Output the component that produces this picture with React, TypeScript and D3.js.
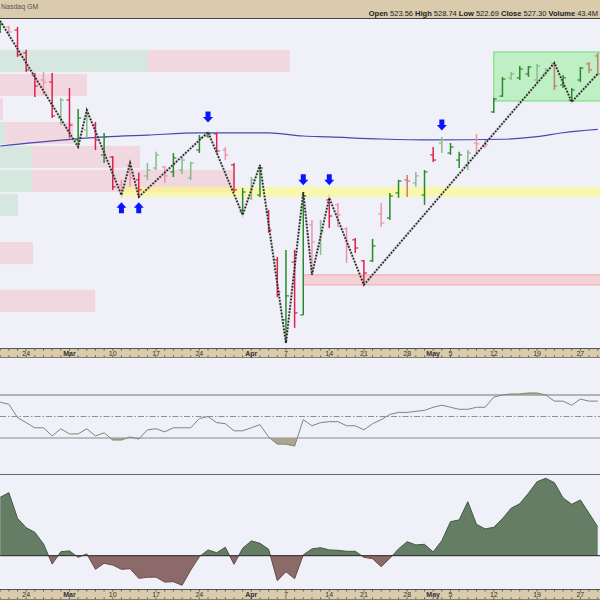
import React from 'react';
import * as d3 from 'd3';

// ---------- data ----------
const holidays = ['2025-04-18', '2025-05-26'];
const fmt = d3.timeFormat('%Y-%m-%d');
const dates: string[] = d3
  .timeDays(new Date(2025, 1, 19), new Date(2025, 4, 30))
  .filter((d) => d.getDay() !== 0 && d.getDay() !== 6)
  .map((d) => fmt(d))
  .filter((s) => !holidays.includes(s));

const highs = [540.4, 538.2, 537.8, 528.0, 518.1, 518.5, 518.1, 507.4, 511.7, 502.7,
  502.2, 497.1, 492.4, 482.5, 472.3, 479.5, 475.3, 479.5, 484.3, 478.3,
  483.8, 482.1, 480.0, 491.5, 492.8, 492.4, 486.4, 479.5, 468.8, 473.5,
  478.7, 459.4, 439.3, 442.3, 442.3, 467.1, 455.1, 455.1, 464.6, 462.4,
  452.1, 447.4, 438.0, 447.0, 462.4, 466.7, 472.3, 474.4, 475.7, 476.5,
  486.4, 490.7, 488.1, 484.3, 485.1, 492.0, 489.4, 507.4, 516.4, 518.5,
  521.1, 521.1, 522.0, 520.2, 522.4, 517.2, 511.7, 520.7, 522.8, 526.7];
const lows = [535.2, 534.8, 525.0, 518.5, 507.8, 508.7, 498.8, 495.8, 490.3, 486.4,
  490.3, 485.1, 479.5, 468.0, 465.8, 469.3, 465.0, 472.3, 476.5, 471.0,
  473.5, 474.8, 472.3, 483.8, 490.3, 483.8, 480.8, 467.1, 457.3, 463.7,
  465.0, 449.6, 422.1, 402.4, 408.9, 414.4, 431.6, 440.1, 451.7, 452.1,
  436.7, 441.0, 427.3, 437.1, 452.1, 455.1, 464.6, 465.0, 469.3, 461.6,
  480.0, 483.8, 483.0, 477.4, 476.5, 483.0, 486.0, 501.0, 507.8, 515.1,
  515.1, 516.4, 513.8, 517.2, 510.8, 511.7, 505.7, 514.2, 518.1, 517.2];
const opens = [536.1, 537.8, 536.5, 526.7, 517.2, 515.1, 514.2, 498.8, 506.5, 489.4,
  493.7, 495.8, 483.0, 482.1, 470.1, 478.7, 472.3, 474.0, 477.4, 477.8,
  475.7, 476.5, 473.1, 485.1, 491.1, 492.0, 485.1, 478.7, 458.6, 464.6,
  465.8, 458.6, 438.0, 412.3, 437.1, 414.4, 453.0, 443.6, 463.7, 461.6,
  451.3, 446.6, 437.6, 437.6, 457.7, 456.0, 466.7, 472.3, 471.0, 465.8,
  483.0, 488.1, 483.8, 480.8, 478.7, 488.1, 487.3, 501.4, 508.2, 516.0,
  516.0, 517.7, 515.1, 517.7, 522.0, 513.0, 506.5, 515.1, 522.0, 525.4];
const closes = [539.1, 535.7, 525.8, 519.4, 512.5, 514.2, 499.7, 506.5, 495.8, 498.8,
  499.7, 489.4, 490.7, 469.3, 468.8, 473.1, 468.0, 476.5, 483.0, 474.0,
  481.7, 480.8, 479.5, 490.3, 492.0, 484.7, 483.0, 468.0, 467.1, 472.3,
  477.4, 450.8, 424.3, 422.6, 415.3, 465.4, 445.7, 450.0, 456.8, 457.3,
  444.4, 443.1, 432.4, 444.0, 453.8, 465.4, 471.8, 471.8, 474.0, 475.7,
  480.8, 489.4, 486.4, 483.0, 483.8, 487.7, 487.3, 507.0, 515.5, 517.7,
  519.8, 520.7, 521.1, 519.4, 512.5, 516.0, 510.8, 520.2, 519.4, 517.7];
// G dark green, L light green, R red, P pink, T tan
const barTone = 'GPRRRPRLRGLRGRPPRLLPGLLGGRPRGLGRRGRGPLRPPRRGPGGTLGRLGGLPPGGLGGLLTGGGTT';

// 200-day moving average, read at selected bars
const maIdx = [0, 6, 12, 17, 23, 31, 35, 38, 44, 50, 58, 62, 65, 69];
const maVal = [486.8, 489.0, 490.7, 491.5, 492.4, 492.4, 491.1, 490.7, 489.8, 489.4, 489.7, 490.8, 492.5, 493.9];

// zigzag pivots: bar index & which price
const zzIdx = [0, 9, 10, 14, 15, 16, 24, 28, 30, 33, 35, 36, 38, 42, 64, 66, 69];
const zzKind = ['H', 'L', 'H', 'L', 'H', 'L', 'H', 'L', 'H', 'L', 'H', 'L', 'H', 'L', 'H', 'L', 'C'];

// signal arrows
const arrowIdx = [24, 35, 38, 51, 14, 16];
const arrowDir = ['down', 'down', 'down', 'down', 'up', 'up'];
const arrowPrice = [499.2, 472.3, 472.3, 495.8, 460.3, 460.3];

// volume-by-price rows
const vbpEdges = [528.4, 518.1, 507.8, 497.5, 487.3, 477.0, 466.7, 456.4, 446.1, 435.8, 425.6, 415.3, 405.0];
const vbpUp = [493, 0, 0, 17, 107, 107, 60, 0, 0, 0, 0, 0];
const vbpDown = [473, 290, 10, 227, 360, 670, 0, 0, 110, 0, 317, 0];

// zones
const yellowZone = { start: '2025-03-11', hi: 469.3, lo: 465.0 };
const pinkZone = { start: '2025-04-09', hi: 431.6, lo: 427.3 };
const greenZone = { start: '2025-05-12', hi: 527.1, lo: 506.1 };

const rsi = [63.3, 61.4, 49.0, 44.3, 39.5, 39.5, 31.9, 38.6, 33.8, 33.8,
  38.6, 31.9, 34.8, 28.1, 28.1, 31.0, 29.0, 37.6, 38.6, 35.7,
  39.5, 39.5, 39.5, 48.1, 50.0, 44.3, 43.3, 36.7, 36.7, 39.5,
  42.4, 31.0, 24.3, 24.3, 22.4, 47.1, 41.4, 44.3, 45.2, 45.2,
  41.4, 41.4, 37.6, 43.3, 47.1, 51.9, 53.8, 53.8, 54.8, 55.7,
  58.6, 60.5, 58.6, 56.7, 56.7, 58.6, 58.6, 68.1, 70.0, 71.0,
  71.0, 71.9, 71.9, 70.0, 64.3, 64.3, 60.5, 66.2, 64.3, 64.3];

const hist = [2.92, 3.15, 1.87, 1.40, 1.17, 0.59, -0.42, 0.20, 0.24, -0.08,
  0.09, -0.68, -0.38, -0.47, -0.68, -0.65, -1.13, -1.08, -1.07, -1.32,
  -1.30, -1.48, -0.72, -0.05, 0.29, 0.15, 0.42, -0.43, 0.37, 0.74,
  0.62, 0.32, -1.25, -0.80, -1.15, 0.04, 0.34, 0.40, 0.29, 0.27,
  0.22, 0.22, -0.08, -0.15, -0.55, -0.13, 0.34, 0.70, 0.54, 0.57,
  0.19, 0.75, 1.70, 1.79, 2.70, 1.57, 1.34, 1.42, 1.85, 2.37,
  2.60, 3.12, 3.70, 3.87, 3.65, 2.89, 2.57, 2.79, 2.12, 1.45];

const tickDates = ['2025-02-24', '2025-03-03', '2025-03-10', '2025-03-17', '2025-03-24', '2025-04-01', '2025-04-07',
  '2025-04-14', '2025-04-21', '2025-04-28', '2025-05-01', '2025-05-05', '2025-05-12', '2025-05-19', '2025-05-27'];
const tickLabels = ['24', 'Mar', '10', '17', '24', 'Apr', '7', '14', '21', '28', 'May', '5', '12', '19', '27'];

const headerName = 'Nasdaq GM';
const quoteLabels = ['Open', 'High', 'Low', 'Close', 'Volume'];
const quoteValues = ['523.56', '528.74', '522.69', '527.30', '43.4M'];

// ---------- styling ----------
const BG = '#eff0f8';
const TAN = '#d9cbab';
const FONT = 'Liberation Sans, Arial, sans-serif';
const toneColor: Record<string, string> = {
  G: '#2a8a2a', L: '#86bc86', R: '#e0204a', P: '#ef93a8', T: '#c97c6c',
};

export default function App() {
  const x = d3.scalePoint<string>().domain(dates).range([0.2, 597.7]);
  const xi = (i: number) => x(dates[i]) as number;
  const yP = d3.scaleLinear().domain([400, 545]).range([348.6, 10.2]);
  const xVol = d3.scaleLinear().domain([0, 2000]).range([0, 600]);
  const yR = d3.scaleLinear().domain([0, 100]).range([470.25, 362.75]);
  const yM = d3.scaleLinear().domain([0, 4]).range([555.7, 475.7]);

  const maLine = d3.line<number>()
    .x((_, k) => xi(maIdx[k]))
    .y((d) => yP(d))
    .curve(d3.curveMonotoneX)(maVal) as string;

  const zzPts: [number, number][] = zzIdx.map((i, k) => [
    xi(i),
    yP(zzKind[k] === 'H' ? highs[i] : zzKind[k] === 'L' ? lows[i] : closes[i]),
  ]);
  const zzPath = d3.line()(zzPts) as string;

  const rsiLine = d3.line<number>().x((_, i) => xi(i)).y((d) => yR(d))(rsi) as string;
  const rsiArea70 = d3.area<number>().x((_, i) => xi(i)).y0(yR(70)).y1((d) => yR(d))(rsi) as string;
  const rsiArea30 = d3.area<number>().x((_, i) => xi(i)).y0(yR(30)).y1((d) => yR(d))(rsi) as string;

  const histArea = d3.area<number>().x((_, i) => xi(i)).y0(yM(0)).y1((d) => yM(d))(hist) as string;
  const histLine = d3.line<number>().x((_, i) => xi(i)).y((d) => yM(d))(hist) as string;

  const arrowPath = (cx: number, cy: number, dir: string) => {
    const s = dir === 'down' ? 1 : -1;
    return `M${cx - 2.5},${cy - 5.5 * s} L${cx + 2.5},${cy - 5.5 * s} L${cx + 2.5},${cy} L${cx + 5},${cy} L${cx},${cy + 5.5 * s} L${cx - 5},${cy} L${cx - 2.5},${cy} Z`;
  };

  const axisBand = (top: number, bottom: number, key: string) => (
    <g key={key}>
      <rect x={0} y={top} width={600} height={bottom - top} fill={TAN} />
      <line x1={0} x2={600} y1={top + 0.5} y2={top + 0.5} stroke="#555" />
      <line x1={0} x2={600} y1={bottom - 0.5} y2={bottom - 0.5} stroke="#8a7f6a" />
      {dates.map((d) => (
        <g key={d}>
          <line x1={x(d)} x2={x(d)} y1={top + 1} y2={top + 2.5} stroke="#555" strokeWidth={1} />
          <line x1={x(d)} x2={x(d)} y1={bottom - 2.5} y2={bottom - 1} stroke="#555" strokeWidth={1} />
        </g>
      ))}
      {tickDates.map((d, k) => (
        <text key={d} x={x(d)} y={top + 8.3} textAnchor="middle" fontSize={7}
          fontWeight={/^\d/.test(tickLabels[k]) ? 'normal' : 'bold'} fill="#333" fontFamily={FONT}>
          {tickLabels[k]}
        </text>
      ))}
    </g>
  );

  return (
    <svg width={600} height={600} viewBox="0 0 600 600"
      style={{ position: 'absolute', left: 0, top: 0, display: 'block' }}>
      <defs>
        <clipPath id="mainClip"><rect x={0} y={19} width={600} height={329} /></clipPath>
        <clipPath id="above70"><rect x={0} y={0} width={600} height={yR(70)} /></clipPath>
        <clipPath id="below30"><rect x={0} y={yR(30)} width={600} height={100} /></clipPath>
        <clipPath id="histPos"><rect x={0} y={474} width={600} height={yM(0) - 474} /></clipPath>
        <clipPath id="histNeg"><rect x={0} y={yM(0)} width={600} height={589 - yM(0)} /></clipPath>
      </defs>
      <rect x={0} y={0} width={600} height={600} fill={BG} />

      {/* header */}
      <rect x={0} y={0} width={600} height={18} fill={TAN} />
      <line x1={0} x2={600} y1={18.5} y2={18.5} stroke="#444" />
      <text x={1} y={9} fontSize={7} fill="#555" fontFamily={FONT}>{headerName}</text>
      <text x={598} y={16} fontSize={7.5} textAnchor="end" fill="#222" fontFamily={FONT}>
        {quoteLabels.map((l, k) => (
          <React.Fragment key={l}>
            <tspan fontWeight="bold">{(k ? ' ' : '') + l}</tspan>
            <tspan>{' ' + quoteValues[k]}</tspan>
          </React.Fragment>
        ))}
      </text>

      {/* main panel */}
      <g clipPath="url(#mainClip)">
        {vbpUp.map((u, k) => {
          const y0 = yP(vbpEdges[k]) + 1;
          const y1 = yP(vbpEdges[k + 1]) - 1;
          return (
            <g key={k}>
              {u > 0 && <rect x={0} y={y0} width={xVol(u)} height={y1 - y0} fill="#d5e7de" />}
              {vbpDown[k] > 0 && <rect x={xVol(u)} y={y0} width={xVol(vbpDown[k])} height={y1 - y0} fill="#f1d7df" />}
            </g>
          );
        })}
        <rect x={x(yellowZone.start)} y={yP(yellowZone.hi)} width={600} height={yP(yellowZone.lo) - yP(yellowZone.hi)}
          fill="#ffff70" fillOpacity={0.55} />
        <rect x={x(pinkZone.start)} y={yP(pinkZone.hi)} width={600} height={yP(pinkZone.lo) - yP(pinkZone.hi)}
          fill="#f6b8b8" fillOpacity={0.55} stroke="#f2a8a8" strokeWidth={1} />
        <rect x={x(greenZone.start)} y={yP(greenZone.hi)} width={600} height={yP(greenZone.lo) - yP(greenZone.hi)}
          fill="#90ee90" fillOpacity={0.5} stroke="#70dd70" strokeWidth={1} />

        <path d={maLine} fill="none" stroke="#4848b0" strokeWidth={1.2} />

        {dates.map((d, i) => {
          const cx = xi(i);
          const c = toneColor[barTone[i]];
          return (
            <g key={d} stroke={c} strokeWidth={1.5}>
              <line x1={cx} x2={cx} y1={yP(highs[i])} y2={yP(lows[i])} />
              <line x1={cx - 3} x2={cx} y1={yP(opens[i])} y2={yP(opens[i])} strokeWidth={1.2} />
              <line x1={cx} x2={cx + 3} y1={yP(closes[i])} y2={yP(closes[i])} strokeWidth={1.2} />
            </g>
          );
        })}

        <path d={zzPath} fill="none" stroke="#999" strokeWidth={2.4} strokeOpacity={0.35} />
        <path d={zzPath} fill="none" stroke="#222" strokeWidth={1.8} strokeDasharray="1.6,1.6" />

        {arrowIdx.map((i, k) => (
          <path key={k} d={arrowPath(xi(i), yP(arrowPrice[k]), arrowDir[k])} fill="#0a14ff" />
        ))}
      </g>

      {axisBand(348, 358, 'ax1')}

      {/* RSI panel */}
      <line x1={0} x2={600} y1={yR(70)} y2={yR(70)} stroke="#777" strokeWidth={1} />
      <line x1={0} x2={600} y1={yR(30)} y2={yR(30)} stroke="#bdbdbd" strokeWidth={2} />
      <line x1={0} x2={600} y1={yR(50)} y2={yR(50)} stroke="#777" strokeWidth={0.8} strokeDasharray="6,2,1.5,2" />
      <path d={rsiArea70} fill="#aca48c" clipPath="url(#above70)" />
      <path d={rsiArea30} fill="#aca48c" clipPath="url(#below30)" />
      <path d={rsiLine} fill="none" stroke="#768a76" strokeWidth={1} />
      <line x1={0} x2={600} y1={474.5} y2={474.5} stroke="#666" strokeWidth={1} />

      {/* histogram panel */}
      <path d={histArea} fill="#647d64" clipPath="url(#histPos)" />
      <path d={histArea} fill="#8d6a6a" clipPath="url(#histNeg)" />
      <path d={histLine} fill="none" stroke="#3f5a3f" strokeWidth={1} clipPath="url(#histPos)" />
      <path d={histLine} fill="none" stroke="#6a4848" strokeWidth={1} clipPath="url(#histNeg)" />
      <line x1={0} x2={600} y1={yM(0)} y2={yM(0)} stroke="#222" strokeWidth={1} />

      {axisBand(589, 600, 'ax2')}
    </svg>
  );
}
